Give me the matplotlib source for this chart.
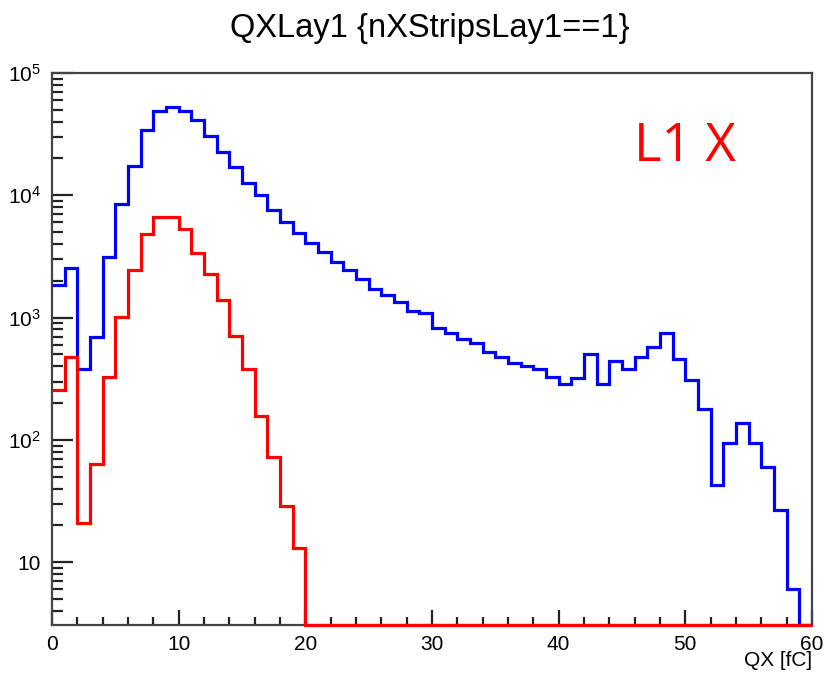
import numpy as np
import matplotlib
matplotlib.use("Agg")
import matplotlib.pyplot as plt
from matplotlib.ticker import FixedLocator, LogLocator, FuncFormatter, NullFormatter, MultipleLocator

plt.rcParams['font.family'] = ['Liberation Sans', 'DejaVu Sans']
plt.rcParams['mathtext.fontset'] = 'custom'
plt.rcParams['mathtext.rm'] = 'Liberation Sans'

# QX histogram, 60 bins of 1 fC from 0 to 60
edges = np.arange(0, 61, 1)
all_strips = [1850, 2540, 380, 690, 3160, 8470, 17500, 33900, 49100, 52700,
              49000, 40900, 30300, 22400, 17000, 12600, 10000, 7600, 6100, 4900,
              4080, 3450, 2840, 2460, 2060, 1710, 1530, 1350, 1135, 1100,
              828, 745, 665, 617, 527, 480, 428, 405, 380, 329,
              285, 320, 500, 285, 443, 380, 474, 572, 745, 457,
              309, 179, 43, 95, 137, 95, 60, 27, 6, 0]
one_strip = [256, 480, 21, 63, 329, 1020, 2430, 4810, 6590, 6590,
             5290, 3360, 2280, 1400, 713, 378, 158, 72, 29, 13] + [0] * 40

ymin, ymax = 3.07, 1e5

fig = plt.figure(figsize=(8.26, 6.75), dpi=100)
ax = fig.add_axes([52/826, 50/675, 760/826, 552/675])
ax.set_yscale('log')

# empty bins sit on the bottom of the log axis, like ROOT draws them
blue = np.maximum(np.array(all_strips, dtype=float), ymin)
red = np.maximum(np.array(one_strip, dtype=float), ymin)
ax.stairs(blue, edges, baseline=None, color='#0000ff', lw=2.3, clip_on=False, zorder=5)
ax.stairs(red, edges, baseline=None, color='#ff0000', lw=2.3, clip_on=False, zorder=6)

ax.set_xlim(0, 60)
ax.set_ylim(ymin, ymax)

ax.xaxis.set_major_locator(MultipleLocator(10))
ax.xaxis.set_minor_locator(MultipleLocator(2))
ax.yaxis.set_major_locator(FixedLocator([10, 100, 1000, 1e4, 1e5]))
ax.yaxis.set_minor_locator(LogLocator(base=10, subs=np.arange(2, 10), numticks=20))
ax.yaxis.set_minor_formatter(NullFormatter())

def ylab(v, pos):
    n = int(round(np.log10(v)))
    if n == 1:
        return '10'
    return r'$\mathregular{10^{%d}}$' % n

ax.yaxis.set_major_formatter(FuncFormatter(ylab))

ax.tick_params(which='both', direction='in', top=False, right=False,
               labelsize=15, color='#222222', width=1.6)
ax.tick_params(axis='y', which='major', length=15, pad=8)
ax.tick_params(axis='y', which='minor', length=8)
ax.tick_params(axis='x', which='major', length=11, pad=7)
ax.tick_params(axis='x', which='minor', length=6)
for s in ax.spines.values():
    s.set_color('#444444')
    s.set_linewidth(1.6)

fig.text(430/826, 1 - 29/675, 'QXLay1 {nXStripsLay1==1}', ha='center', va='center', fontsize=23.5)
ax.text(1.0, -0.047, 'QX [fC]', transform=ax.transAxes, ha='right', va='top', fontsize=15)
fig.text(685/826, 1 - 147/675, 'L1 X', ha='center', va='center', fontsize=38,
         color='#ff0000', family=['Open Sans', 'DejaVu Sans'])

fig.savefig('out.png', dpi=100)
